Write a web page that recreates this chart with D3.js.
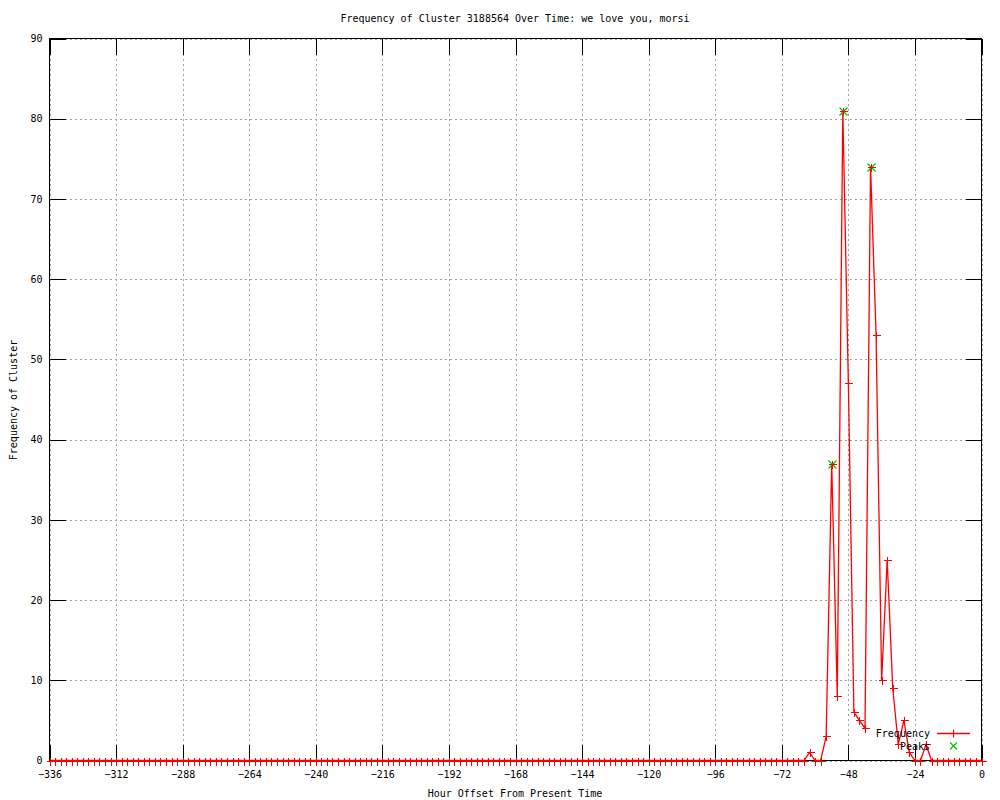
<!DOCTYPE html>
<html>
<head>
<meta charset="utf-8">
<script src="https://cdn.jsdelivr.net/npm/d3@7"></script>
<style>
  body { margin: 0; background: #fff; }
  svg { display: block; }
  text { font-family: "DejaVu Sans Mono", "Liberation Mono", monospace; font-size: 10px; fill: #000; }
  .grid line { stroke: #a0a0a0; stroke-dasharray: 2,3; }
  .grid path { display: none; }
  .axis path { display: none; }
  .axis line { stroke: #000; }
</style>
</head>
<body>
<div id="chart"></div>
<script>
// hour offsets, one sample every 2 hours
var hours = d3.range(-336, 1, 2);

// frequency, 12 values per row (one row = 24 hours, starting at -336)
var values = [
  0,0,0,0,0,0,0,0,0,0,0,0,
  0,0,0,0,0,0,0,0,0,0,0,0,
  0,0,0,0,0,0,0,0,0,0,0,0,
  0,0,0,0,0,0,0,0,0,0,0,0,
  0,0,0,0,0,0,0,0,0,0,0,0,
  0,0,0,0,0,0,0,0,0,0,0,0,
  0,0,0,0,0,0,0,0,0,0,0,0,
  0,0,0,0,0,0,0,0,0,0,0,0,
  0,0,0,0,0,0,0,0,0,0,0,0,
  0,0,0,0,0,0,0,0,0,0,0,0,
  0,0,0,0,0,0,0,0,0,0,0,0,
  0,0,0,0,0,1,0,0,3,37,8,81,
  47,6,5,4,74,53,10,25,9,2,5,1,
  0,0,2,0,0,0,0,0,0,0,0,0,
  0
];

var peakHours = [-54, -50, -40];
var peakValues = [37, 81, 74];

var xTicks = [-336, -312, -288, -264, -240, -216, -192, -168, -144, -120, -96, -72, -48, -24, 0];
var yTicks = [0, 10, 20, 30, 40, 50, 60, 70, 80, 90];

var title = 'Frequency of Cluster 3188564 Over Time: we love you, morsi';

var width = 1000, height = 800;
var pLeft = 49.5, pRight = 981.5, pTop = 38.5, pBottom = 760.5;

var svg = d3.select('#chart').append('svg')
    .attr('width', width)
    .attr('height', height);

var x = d3.scaleLinear().domain([-336, 0]).range([pLeft, pRight]);
var y = d3.scaleLinear().domain([0, 90]).range([pBottom, pTop]);

// grid
svg.append('g')
    .attr('class', 'grid')
    .attr('shape-rendering', 'crispEdges')
    .attr('transform', 'translate(0,' + pBottom + ')')
    .call(d3.axisBottom(x).tickValues(xTicks).tickSize(-(pBottom - pTop)).tickFormat(''));
svg.append('g')
    .attr('class', 'grid')
    .attr('shape-rendering', 'crispEdges')
    .attr('transform', 'translate(' + pLeft + ',0)')
    .call(d3.axisLeft(y).tickValues(yTicks).tickSize(-(pRight - pLeft)).tickFormat(''));

// tics on all four sides, pointing inwards
svg.append('g')
    .attr('class', 'axis')
    .attr('transform', 'translate(0,' + pBottom + ')')
    .call(d3.axisBottom(x).tickValues(xTicks).tickSizeInner(-16).tickSizeOuter(0).tickPadding(10));
svg.append('g')
    .attr('class', 'axis')
    .attr('transform', 'translate(0,' + pTop + ')')
    .call(d3.axisTop(x).tickValues(xTicks).tickSizeInner(-16).tickSizeOuter(0).tickFormat(''));
svg.append('g')
    .attr('class', 'axis')
    .attr('transform', 'translate(' + pLeft + ',0)')
    .call(d3.axisLeft(y).tickValues(yTicks).tickSizeInner(-16).tickSizeOuter(0).tickPadding(7));
svg.append('g')
    .attr('class', 'axis')
    .attr('transform', 'translate(' + pRight + ',0)')
    .call(d3.axisRight(y).tickValues(yTicks).tickSizeInner(-16).tickSizeOuter(0).tickFormat(''));

svg.selectAll('.axis line').attr('shape-rendering', 'crispEdges');
svg.selectAll('.axis text').style('font-size', '10px').style('font-family', '"DejaVu Sans Mono", monospace');

// border
svg.append('rect')
    .attr('x', pLeft).attr('y', pTop)
    .attr('width', pRight - pLeft).attr('height', pBottom - pTop)
    .attr('shape-rendering', 'crispEdges')
    .attr('fill', 'none').attr('stroke', '#000');

var data = hours.map(function(h, i) { return { h: h, v: values[i] }; });

var line = d3.line()
    .x(function(d) { return x(d.h); })
    .y(function(d) { return y(d.v); });

svg.append('path')
    .datum(data)
    .attr('d', line)
    .attr('fill', 'none')
    .attr('stroke', '#ff0000')
    .attr('stroke-width', 1.3);

function plus(cx, cy, s) {
  return 'M' + (cx - s) + ',' + cy + 'H' + (cx + s) + 'M' + cx + ',' + (cy - s) + 'V' + (cy + s);
}
function cross(cx, cy, s) {
  return 'M' + (cx - s) + ',' + (cy - s) + 'L' + (cx + s) + ',' + (cy + s) +
         'M' + (cx - s) + ',' + (cy + s) + 'L' + (cx + s) + ',' + (cy - s);
}

// peaks
svg.selectAll('path.peak')
    .data(peakHours)
    .enter()
    .append('path')
      .attr('class', 'peak')
      .attr('d', function(d, i) { return cross(Math.round(x(d)) + 0.5, Math.round(y(peakValues[i])) + 0.5, 4); })
      .attr('fill', 'none')
      .attr('stroke', '#00c000')
      .attr('stroke-width', 1.2);

// frequency markers
svg.selectAll('path.pt')
    .data(data)
    .enter()
    .append('path')
      .attr('class', 'pt')
      .attr('d', function(d) { return plus(Math.round(x(d.h)) + 0.5, Math.round(y(d.v)) + 0.5, 4); })
      .attr('fill', 'none')
      .attr('shape-rendering', 'crispEdges')
      .attr('stroke', '#ff0000')
      .attr('stroke-width', 1);

// legend
var legend = svg.append('g').attr('class', 'legend');
legend.append('text')
    .attr('x', 930).attr('y', 733).attr('dy', '0.35em')
    .attr('text-anchor', 'end')
    .text('Frequency');
legend.append('path')
    .attr('d', 'M937,733.5H970')
    .attr('fill', 'none')
    .attr('stroke', '#ff0000')
    .attr('stroke-width', 1.4);
legend.append('path')
    .attr('d', plus(953.5, 733.5, 4))
    .attr('fill', 'none')
    .attr('stroke', '#ff0000')
    .attr('stroke-width', 1.2);
legend.append('text')
    .attr('x', 930).attr('y', 746).attr('dy', '0.35em')
    .attr('text-anchor', 'end')
    .text('Peaks');
legend.append('path')
    .attr('d', cross(953.5, 746, 3.5))
    .attr('fill', 'none')
    .attr('stroke', '#00c000')
    .attr('stroke-width', 1.2);

// titles
svg.append('text')
    .attr('x', 515).attr('y', 18).attr('dy', '0.35em')
    .attr('text-anchor', 'middle')
    .text(title);
svg.append('text')
    .attr('x', 515).attr('y', 793).attr('dy', '0.35em')
    .attr('text-anchor', 'middle')
    .text('Hour Offset From Present Time');
svg.append('text')
    .attr('transform', 'translate(13,400) rotate(-90)')
    .attr('dy', '0.35em')
    .attr('text-anchor', 'middle')
    .text('Frequency of Cluster');
</script>
</body>
</html>
